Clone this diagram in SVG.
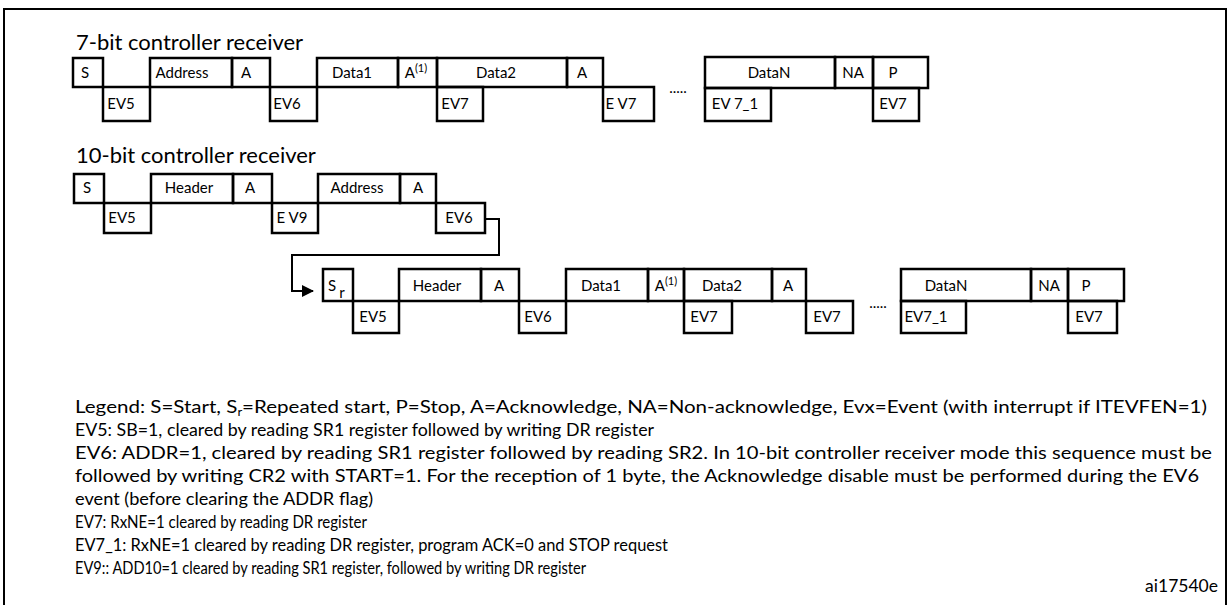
<svg xmlns="http://www.w3.org/2000/svg" width="1230" height="605" viewBox="0 0 1230 605">
<style>
.b{fill:none;stroke:#000;stroke-width:2.5}
.t{font-family:Lato,"Liberation Sans",sans-serif;font-size:15px;fill:#000;text-anchor:middle}
.h{font-family:Lato,"Liberation Sans",sans-serif;font-size:22px;fill:#000}
.l{font-family:Lato,"Liberation Sans",sans-serif;font-size:17.5px;fill:#000}
.c{fill:none;stroke:#000;stroke-width:2}
</style>
<defs><marker id="ar" markerWidth="12" markerHeight="12" refX="11" refY="6" orient="auto" markerUnits="userSpaceOnUse" viewBox="0 0 12 12"><path d="M0,0 L12,6 L0,12 z" fill="#000"/></marker></defs>
<rect width="1230" height="605" fill="#fff"/>
<rect x="4" y="9" width="1222" height="610" fill="none" stroke="#000" stroke-width="2"/>

<text class="h" x="76" y="50">7-bit controller receiver</text>
<g id="row1">
<rect class="b" x="73" y="58" width="30" height="29"/><text class="t" x="85" y="78">S</text>
<rect class="b" x="103" y="87" width="47" height="34"/><text class="t" x="121" y="109">EV5</text>
<rect class="b" x="150" y="58" width="82" height="29"/><text class="t" x="182" y="78">Address</text>
<rect class="b" x="232" y="58" width="38" height="29"/><text class="t" x="246" y="78">A</text>
<rect class="b" x="270" y="87" width="47" height="34"/><text class="t" x="287" y="109">EV6</text>
<rect class="b" x="317" y="58" width="81" height="29"/><text class="t" x="352" y="78">Data1</text>
<rect class="b" x="398" y="58" width="39" height="29"/><text class="t" x="416" y="78">A<tspan dy="-6" font-size="11">(1)</tspan></text>
<rect class="b" x="437" y="58" width="130" height="29"/><text class="t" x="496" y="78">Data2</text>
<rect class="b" x="567" y="58" width="36" height="29"/><text class="t" x="582" y="78">A</text>
<rect class="b" x="437" y="87" width="46" height="34"/><text class="t" x="455" y="109">EV7</text>
<rect class="b" x="603" y="87" width="51" height="34"/><text class="t" x="621" y="109">E V7</text>
<text class="t" x="678" y="93">.....</text>
<rect class="b" x="705" y="57" width="130" height="31"/><text class="t" x="769" y="78">DataN</text>
<rect class="b" x="835" y="57" width="38" height="31"/><text class="t" x="853" y="78">NA</text>
<rect class="b" x="873" y="57" width="55" height="31"/><text class="t" x="893" y="78">P</text>
<rect class="b" x="705" y="88" width="66" height="33"/><text class="t" x="735" y="109">EV 7_1</text>
<rect class="b" x="873" y="88" width="46" height="33"/><text class="t" x="893" y="109">EV7</text>
</g>

<text class="h" x="76" y="163">10-bit controller receiver</text>
<g id="row2">
<rect class="b" x="74" y="174" width="30" height="29"/><text class="t" x="87" y="193">S</text>
<rect class="b" x="104" y="203" width="47" height="30"/><text class="t" x="122" y="223">EV5</text>
<rect class="b" x="151" y="174" width="82" height="29"/><text class="t" x="189" y="193">Header</text>
<rect class="b" x="233" y="174" width="39" height="29"/><text class="t" x="250" y="193">A</text>
<rect class="b" x="272" y="203" width="46" height="30"/><text class="t" x="292" y="223">E V9</text>
<rect class="b" x="318" y="174" width="82" height="29"/><text class="t" x="357" y="193">Address</text>
<rect class="b" x="400" y="174" width="36" height="29"/><text class="t" x="418" y="193">A</text>
<rect class="b" x="436" y="203" width="49" height="30"/><text class="t" x="459" y="223">EV6</text>
</g>

<g id="connectors">
<polyline class="c" points="485,219 499,219 499,255 292,255 292,291 313,291" marker-end="url(#ar)"/>
</g>

<g id="row3">
<rect class="b" x="323" y="269" width="30" height="32"/><text class="t" x="332" y="291">S</text><text class="t" x="342" y="298" font-size="10">r</text>
<rect class="b" x="353" y="301" width="46" height="32"/><text class="t" x="373" y="322">EV5</text>
<rect class="b" x="399" y="269" width="82" height="32"/><text class="t" x="437" y="291">Header</text>
<rect class="b" x="481" y="269" width="38" height="32"/><text class="t" x="499" y="291">A</text>
<rect class="b" x="519" y="301" width="47" height="32"/><text class="t" x="538" y="322">EV6</text>
<rect class="b" x="566" y="269" width="82" height="32"/><text class="t" x="601" y="291">Data1</text>
<rect class="b" x="648" y="269" width="36" height="32"/><text class="t" x="666" y="291">A<tspan dy="-6" font-size="11">(1)</tspan></text>
<rect class="b" x="684" y="269" width="88" height="32"/><text class="t" x="722" y="291">Data2</text>
<rect class="b" x="772" y="269" width="34" height="32"/><text class="t" x="788" y="291">A</text>
<rect class="b" x="684" y="301" width="48" height="32"/><text class="t" x="704" y="322">EV7</text>
<rect class="b" x="806" y="301" width="47" height="32"/><text class="t" x="827" y="322">EV7</text>
<text class="t" x="878" y="308">.....</text>
<rect class="b" x="901" y="269" width="130" height="32"/><text class="t" x="946" y="291">DataN</text>
<rect class="b" x="1031" y="269" width="37" height="32"/><text class="t" x="1049" y="291">NA</text>
<rect class="b" x="1068" y="269" width="56" height="32"/><text class="t" x="1086" y="291">P</text>
<rect class="b" x="901" y="301" width="65" height="32"/><text class="t" x="926" y="322">EV7_1</text>
<rect class="b" x="1068" y="301" width="49" height="32"/><text class="t" x="1089" y="322">EV7</text>
</g>

<g id="legend">
<text class="l" x="75" y="413" textLength="1132" lengthAdjust="spacingAndGlyphs">Legend: S=Start, S<tspan font-size="11" dy="3">r</tspan><tspan dy="-3">=Repeated start, P=Stop, A=Acknowledge, NA=Non-acknowledge, Evx=Event (with interrupt if ITEVFEN=1)</tspan></text>
<text class="l" x="75" y="436" textLength="579" lengthAdjust="spacingAndGlyphs">EV5: SB=1, cleared by reading SR1 register followed by writing DR register</text>
<text class="l" x="75" y="459" textLength="1137" lengthAdjust="spacingAndGlyphs">EV6: ADDR=1, cleared by reading SR1 register followed by reading SR2. In 10-bit controller receiver mode this sequence must be</text>
<text class="l" x="75" y="482" textLength="1124" lengthAdjust="spacingAndGlyphs">followed by writing CR2 with START=1. For the reception of 1 byte, the Acknowledge disable must be performed during the EV6</text>
<text class="l" x="75" y="505" textLength="298" lengthAdjust="spacingAndGlyphs">event (before clearing the ADDR flag)</text>
<text class="l" x="75" y="528" textLength="292" lengthAdjust="spacingAndGlyphs">EV7: RxNE=1 cleared by reading DR register</text>
<text class="l" x="75" y="551" textLength="593" lengthAdjust="spacingAndGlyphs">EV7_1: RxNE=1 cleared by reading DR register, program ACK=0 and STOP request</text>
<text class="l" x="75" y="574" textLength="511" lengthAdjust="spacingAndGlyphs">EV9:: ADD10=1 cleared by reading SR1 register, followed by writing DR register</text>
<text class="l" x="1218" y="592" font-size="14" text-anchor="end">ai17540e</text>
</g>
</svg>
